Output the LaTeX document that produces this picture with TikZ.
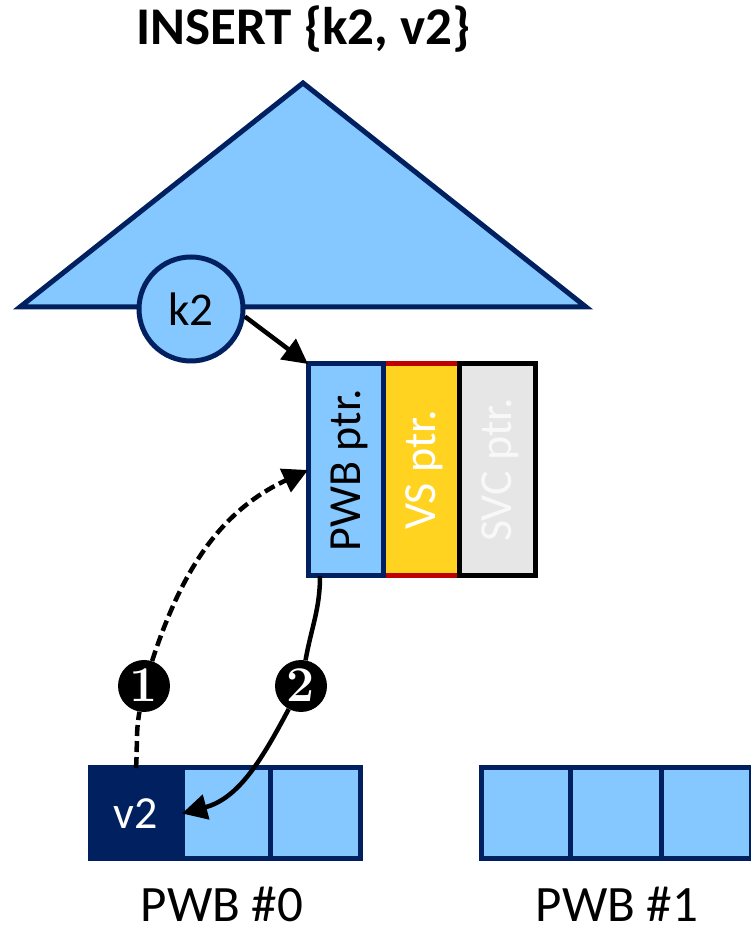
\documentclass[tikz,border=0pt]{standalone}
\usepackage{fontspec}
\newfontfamily\calibri{Carlito}
\usetikzlibrary{arrows.meta}
\definecolor{navy}{RGB}{0,32,96}
\definecolor{lblue}{RGB}{133,199,255}
\definecolor{vsyellow}{RGB}{255,211,32}
\definecolor{vsred}{RGB}{192,0,0}
\definecolor{svcgray}{RGB}{230,230,230}
\definecolor{svctext}{RGB}{248,248,248}
\begin{document}
\begin{tikzpicture}[x=1pt,y=1pt,
  cell/.style={draw=navy, fill=lblue, line width=5pt, inner sep=0pt, outer sep=0pt, minimum height=91pt},
  ptrbox/.style={line width=5pt, inner sep=0pt, outer sep=0pt, minimum height=212pt},
  ptrtext/.style={rotate=90, font=\calibri\fontsize{46}{50}\selectfont, text height=29.5pt, text depth=0pt, inner sep=0pt},
  lbl/.style={font=\calibri\fontsize{51}{56}\selectfont, anchor=base, text depth=0pt, inner sep=0pt},
  num/.style={circle, fill=black, inner sep=0pt, minimum size=52pt, text=white, font=\fontsize{50}{52}\selectfont\bfseries, text height=32pt, text depth=0pt},
  conn/.style={line width=4.5pt, -{Triangle[length=25pt,width=25pt]}}
]
\useasboundingbox (0,0) rectangle (751,930);

% title
\node[font=\calibri\bfseries\fontsize{53}{56}\selectfont, anchor=base] (title) at (303.5,885) {INSERT \{k2, v2\}};

% tree triangle
\draw[draw=navy, fill=lblue, line width=5pt, line join=miter] (20,623) -- (303,847) -- (586,623) -- cycle;

% key circle
\node[circle, draw=navy, fill=lblue, line width=5pt, minimum size=104pt, inner sep=0pt, font=\calibri\fontsize{47}{50}\selectfont] (k2) at (191,621) {k2};

% pointer record
\node[ptrbox, draw=vsred, fill=vsyellow, minimum width=76pt] (vs) at (421,460) {};
\node[ptrbox, draw=navy, fill=lblue, minimum width=75pt] (pwb) at (345.5,460) {};
\node[ptrbox, draw=black, fill=svcgray, minimum width=76pt] (svc) at (497,460) {};
\node[ptrtext, text=black] (pwbt) at (pwb.center) {PWB ptr.};
\node[ptrtext, text=white] (vst) at (vs.center) {VS ptr.};
\node[ptrtext, text=svctext] (svct) at (svc.center) {SVC ptr.};

% PWB #0
\node[cell, fill=navy, minimum width=92pt, text=white, font=\calibri\fontsize{46}{50}\selectfont] (v2) at (136,116.5) {v2};
\node[cell, minimum width=88pt] (c02) at (226,116.5) {};
\node[cell, minimum width=90pt] (c03) at (315,116.5) {};
\node[lbl] (l0) at (222,9) {PWB \#0};

% PWB #1
\node[cell, minimum width=89pt] (c11) at (525.5,116.5) {};
\node[cell, minimum width=91pt] (c12) at (615.5,116.5) {};
\node[cell, minimum width=90pt] (c13) at (706,116.5) {};
\node[lbl] (l1) at (617,9) {PWB \#1};

% step labels
\node[num] (n1) at (144,244) {1};
\node[num] (n2) at (301,244) {2};

% connectors
\draw[conn] (k2.-8) -- (pwb.north west);
\draw[line width=4.5pt, dash pattern=on 11pt off 5pt] (v2.north) to[out=86,in=-100] (n1);
\draw[conn, dash pattern=on 11pt off 5pt] (n1) to[out=72,in=205] (pwb.west);
\draw[line width=4.5pt] ([xshift=12pt]pwb.south west) to[out=-90,in=80] (n2);
\draw[conn] (n2) to[out=-118,in=15] (v2.east);
\end{tikzpicture}
\end{document}
